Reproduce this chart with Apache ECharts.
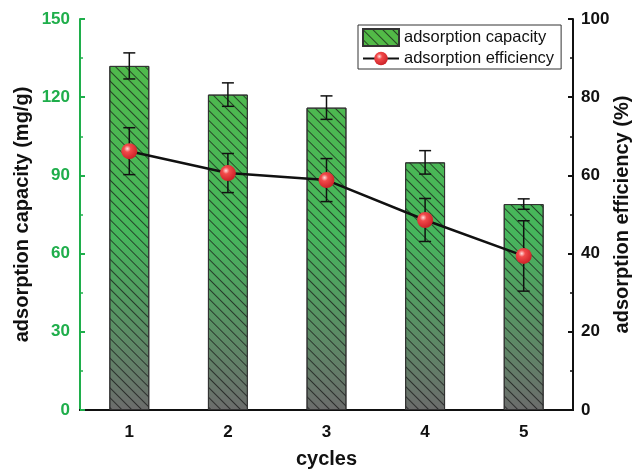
<!DOCTYPE html>
<html><head><meta charset="utf-8">
<script src="https://cdn.jsdelivr.net/npm/echarts@6/dist/echarts.min.js"></script>
<style>html,body{margin:0;padding:0;background:#fff}#c{width:633px;height:470px}</style>
</head><body><div id="c"></div>
<script>
const categories = ['1', '2', '3', '4', '5'];
const capacity = [132, 121, 116, 95, 79];
const capacityErr = [5, 4.5, 4.5, 4.5, 2];
const efficiency = [66.2, 60.6, 58.8, 48.6, 39.4];
const efficiencyErr = [6, 5, 5.5, 5.5, 9];
const leftTicks = [0, 30, 60, 90, 120, 150];
const rightTicks = [0, 20, 40, 60, 80, 100];

const GREEN = '#1fae4b';
const FONT = 'Liberation Sans, Arial, sans-serif';

const chart = echarts.init(document.getElementById('c'), null, {renderer: 'canvas'});

function errData(vals, errs) {
  return vals.map((v, i) => [i, v - errs[i], v + errs[i]]);
}
function errRender(params, api) {
  const x = api.value(0);
  const lo = api.coord([x, api.value(1)]);
  const hi = api.coord([x, api.value(2)]);
  const hw = 6;
  const st = {stroke: '#111', lineWidth: 1.5};
  return {type: 'group', children: [
    {type: 'line', shape: {x1: lo[0], y1: lo[1], x2: hi[0], y2: hi[1]}, style: st},
    {type: 'line', shape: {x1: lo[0] - hw, y1: lo[1], x2: lo[0] + hw, y2: lo[1]}, style: st},
    {type: 'line', shape: {x1: hi[0] - hw, y1: hi[1], x2: hi[0] + hw, y2: hi[1]}, style: st}
  ]};
}

const barFill = {
  type: 'linear', x: 0, y: 19, x2: 0, y2: 410, global: true,
  colorStops: [
    {offset: 0, color: '#52ba47'},
    {offset: 0.55, color: '#46b65c'},
    {offset: 1, color: '#6c6c6c'}
  ]
};

const option = {
  backgroundColor: '#fff',
  animation: false,
  textStyle: {fontFamily: FONT},
  grid: {left: 80, right: 60, top: 19, bottom: 60, containLabel: false, outerBoundsMode: 'none'},
  legend: {
    orient: 'vertical', left: 358, top: 25,
    borderColor: '#333', borderWidth: 1, borderRadius: 0,
    padding: [3, 7, 2, 4], itemGap: 3, itemWidth: 36, itemHeight: 17,
    textStyle: {fontSize: 16.5, color: '#111', fontFamily: FONT},
    data: [{name: 'adsorption capacity', icon: 'rect'}, {name: 'adsorption efficiency'}]
  },
  xAxis: [{
    type: 'category', data: categories, position: 'bottom',
    name: 'cycles', nameLocation: 'middle', nameGap: 39, nameMoveOverlap: false,
    nameTextStyle: {fontSize: 20, fontWeight: 'bold', color: '#111', fontFamily: FONT},
    axisLine: {lineStyle: {color: '#111', width: 2}},
    axisTick: {show: true, inside: true, alignWithLabel: true, length: 5, lineStyle: {color: '#111', width: 2}},
    axisLabel: {fontSize: 17, fontWeight: 'bold', color: '#111', margin: 14, fontFamily: FONT},
    splitLine: {show: false}
  }, {
    type: 'category', data: categories, position: 'top',
    axisLine: {lineStyle: {color: '#111', width: 2}},
    axisTick: {show: false}, axisLabel: {show: false}, splitLine: {show: false}
  }],
  yAxis: [{
    type: 'value', min: 0, max: 150, interval: 30, position: 'left',
    name: 'adsorption capacity (mg/g)', nameLocation: 'middle', nameGap: 48, nameMoveOverlap: false,
    nameTextStyle: {fontSize: 20, fontWeight: 'bold', color: '#111', fontFamily: FONT},
    axisLine: {show: true, lineStyle: {color: GREEN, width: 2}},
    axisTick: {show: true, inside: true, length: 5, lineStyle: {color: GREEN, width: 2}},
    minorTick: {show: true, splitNumber: 2, length: 3, lineStyle: {color: GREEN, width: 1.5}},
    axisLabel: {fontSize: 17, fontWeight: 'bold', color: GREEN, margin: 10, fontFamily: FONT,
      formatter: v => leftTicks.includes(v) ? String(v) : ''},
    splitLine: {show: false}
  }, {
    type: 'value', min: 0, max: 100, interval: 20, position: 'right',
    name: 'adsorption efficiency (%)', nameLocation: 'middle', nameGap: 39, nameRotate: 90, nameMoveOverlap: false,
    nameTextStyle: {fontSize: 20, fontWeight: 'bold', color: '#111', fontFamily: FONT},
    axisLine: {show: true, lineStyle: {color: '#111', width: 2}},
    axisTick: {show: true, inside: true, length: 5, lineStyle: {color: '#111', width: 2}},
    minorTick: {show: true, splitNumber: 2, length: 3, lineStyle: {color: '#111', width: 1.5}},
    axisLabel: {fontSize: 17, fontWeight: 'bold', color: '#111', margin: 8, fontFamily: FONT,
      formatter: v => rightTicks.includes(v) ? String(v) : ''},
    splitLine: {show: false}
  }],
  series: [{
    name: 'adsorption capacity', type: 'bar', data: capacity, yAxisIndex: 0, xAxisIndex: 0,
    barWidth: '40.5%', z: 2,
    itemStyle: {
      color: barFill, borderColor: '#333', borderWidth: 1,
      decal: {symbol: 'rect', symbolSize: 1, dashArrayX: [1, 0], dashArrayY: [1, 6],
        rotation: Math.PI / 4, color: 'rgba(20,20,20,0.7)'}
    }
  }, {
    name: 'capErr', type: 'custom', data: errData(capacity, capacityErr),
    yAxisIndex: 0, renderItem: errRender, z: 3, encode: {x: 0, y: [1, 2]}
  }, {
    name: 'effErr', type: 'custom', data: errData(efficiency, efficiencyErr),
    yAxisIndex: 1, renderItem: errRender, z: 4, encode: {x: 0, y: [1, 2]}
  }, {
    name: 'adsorption efficiency', type: 'line', data: efficiency, yAxisIndex: 1, z: 5,
    symbol: 'circle', symbolSize: 16,
    lineStyle: {color: '#111', width: 2.5},
    itemStyle: {
      color: {type: 'radial', x: 0.38, y: 0.35, r: 0.7, colorStops: [
        {offset: 0, color: '#ffe0e0'},
        {offset: 0.3, color: '#f24a4a'},
        {offset: 1, color: '#c81e25'}
      ]},
      borderWidth: 0
    }
  }]
};
chart.setOption(option);
</script>
</body></html>
